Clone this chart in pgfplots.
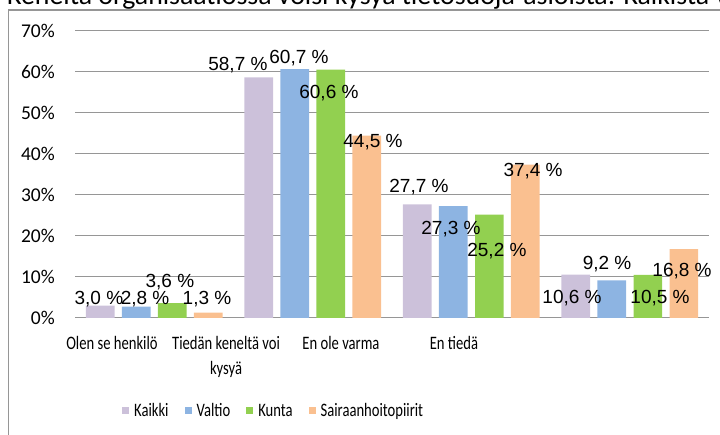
\documentclass[border=0pt]{standalone}
\usepackage{pgfplots}
\pgfplotsset{compat=1.18}
\usepackage{fontspec}
\setmainfont{Carlito}
\newfontfamily\arialf{Liberation Sans}
\usepackage{graphicx}
\definecolor{cK}{RGB}{204,193,218}
\definecolor{cV}{RGB}{141,180,226}
\definecolor{cKu}{RGB}{146,208,80}
\definecolor{cS}{RGB}{250,192,144}
\definecolor{gridc}{RGB}{150,150,150}
\newcommand\sq[1]{\scalebox{0.77}[1]{#1}}
\newcommand\labfont{\arialf\fontsize{19bp}{22bp}\selectfont}
\pgfplotsset{mybar/.style={ybar, bar width=0.18, draw=none,
  legend image code/.code={\fill[##1] (0bp,-3.5bp) rectangle (7bp,3.5bp);}}}
\begin{document}
\begin{tikzpicture}[x=1bp,y=1bp, lab/.style={font=\labfont, inner sep=0pt, text depth=0pt, anchor=center}]
\useasboundingbox (0,0) rectangle (720,435);
\clip (0,0) rectangle (720,435);
\node[anchor=base west, inner sep=0pt, font=\fontsize{27.8bp}{30bp}\selectfont] at (7,430.5) {Keneltä organisaatiossa voisi kysyä tietosuoja-asioista: Kaikista vastaajista};
\draw[gridc, line width=1.4bp] (8.5,-5) -- (8.5,425) -- (730,425);
\begin{axis}[
  at={(75bp,117bp)}, anchor=south west,
  width=634bp, height=287bp, scale only axis,
  xmin=-0.5, xmax=3.5, ymin=0, ymax=70,
  clip=false,
  axis line style={draw=none},
  ymajorgrids, grid style={gridc, line width=1bp},
  ytick={0,10,...,70},
  /pgf/number format/assume math mode=true,
  yticklabel={\pgfmathprintnumber{\tick}\%},
  yticklabel style={font=\fontsize{19.5bp}{22bp}\selectfont, anchor=east, inner sep=0pt, xshift=-20bp},
  xtick={-0.267,0.453,1.178,1.891},
  xticklabels={{\sq{Olen se henkilö}},{\sq{Tiedän keneltä voi}\\\sq{kysyä}},{\sq{En ole varma}},{\sq{En tiedä}}},
  xticklabel style={font=\fontsize{19bp}{25bp}\selectfont, anchor=north, inner sep=0pt, yshift=-18bp, align=center},
  major tick length=0pt,
  legend columns=4,
  legend style={at={(0.0741,-0.324)}, anchor=west, draw=none, fill=none, inner sep=0pt,
    font=\fontsize{19bp}{22bp}\selectfont, nodes={inner sep=0pt},
    /tikz/every odd column/.append style={column sep=5bp},
    /tikz/every even column/.append style={column sep=16bp}},
]
\addplot[mybar, bar shift=-0.3407, fill=cK] coordinates {(0,3.0) (1,58.7) (2,27.7) (3,10.6)};
\addplot[mybar, bar shift=-0.1136, fill=cV] coordinates {(0,2.8) (1,60.7) (2,27.3) (3,9.2)};
\addplot[mybar, bar shift=0.1136, fill=cKu] coordinates {(0,3.6) (1,60.6) (2,25.2) (3,10.5)};
\addplot[mybar, bar shift=0.3407, fill=cS] coordinates {(0,1.3) (1,44.5) (2,37.4) (3,16.8)};
\legend{\sq{Kaikki},\sq{Valtio},\sq{Kunta},\sq{Sairaanhoitopiirit}}
\node[lab] at (axis cs:-0.349,4.88) {3,0 \%};
\node[lab] at (axis cs:-0.058,4.88) {2,8 \%};
\node[lab] at (axis cs:0.099,9.02) {3,6 \%};
\node[lab] at (axis cs:0.333,4.88) {1,3 \%};
\node[lab] at (axis cs:0.528,61.95) {58,7 \%};
\node[lab] at (axis cs:0.913,63.66) {60,7 \%};
\node[lab] at (axis cs:1.102,55.12) {60,6 \%};
\node[lab] at (axis cs:1.380,43.17) {44,5 \%};
\node[lab] at (axis cs:1.670,32.2) {27,7 \%};
\node[lab] at (axis cs:1.872,21.95) {27,3 \%};
\node[lab] at (axis cs:2.162,16.59) {25,2 \%};
\node[lab] at (axis cs:2.390,36.1) {37,4 \%};
\node[lab] at (axis cs:2.636,5.12) {10,6 \%};
\node[lab] at (axis cs:2.857,13.41) {9,2 \%};
\node[lab] at (axis cs:3.191,5.12) {10,5 \%};
\node[lab] at (axis cs:3.330,11.71) {16,8 \%};
\end{axis}
\end{tikzpicture}
\end{document}
